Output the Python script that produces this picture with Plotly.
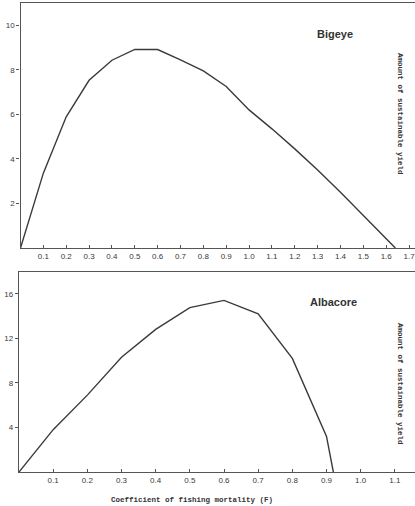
import plotly.graph_objects as go

# Sustainable yield curves against coefficient of fishing mortality (F)
bigeye_f = [0.0, 0.1, 0.2, 0.3, 0.4, 0.5, 0.6, 0.7, 0.8, 0.9, 1.0, 1.1, 1.2, 1.3, 1.4, 1.5, 1.6, 1.64]
bigeye_yield = [0.0, 3.36, 5.89, 7.53, 8.43, 8.92, 8.91, 8.45, 7.95, 7.25, 6.2, 5.35, 4.45, 3.5, 2.5, 1.45, 0.4, 0.0]

albacore_f = [0.0, 0.1, 0.2, 0.3, 0.4, 0.5, 0.6, 0.7, 0.8, 0.9, 0.92]
albacore_yield = [0.0, 3.8, 6.9, 10.3, 12.8, 14.75, 15.4, 14.2, 10.2, 3.2, 0.0]

bigeye_xticks = [0.1, 0.2, 0.3, 0.4, 0.5, 0.6, 0.7, 0.8, 0.9, 1.0, 1.1, 1.2, 1.3, 1.4, 1.5, 1.6, 1.7]
bigeye_yticks = [2, 4, 6, 8, 10]
albacore_xticks = [0.1, 0.2, 0.3, 0.4, 0.5, 0.6, 0.7, 0.8, 0.9, 1.0, 1.1]
albacore_yticks = [4, 8, 12, 16]

W, H = 415, 506
INK = "#3a3a3a"
TICK_FONT = dict(family="Liberation Sans", size=8, color="#3a3a3a")
MONO = dict(family="Liberation Mono", size=7.5, color="#333")
TITLE_FONT = dict(family="Liberation Sans", size=11, color="#333")

fig = go.Figure()
fig.add_trace(go.Scatter(x=bigeye_f, y=bigeye_yield, mode="lines",
                         line=dict(color=INK, width=1.4), xaxis="x", yaxis="y",
                         showlegend=False, hoverinfo="skip"))
fig.add_trace(go.Scatter(x=albacore_f, y=albacore_yield, mode="lines",
                         line=dict(color=INK, width=1.4), xaxis="x2", yaxis="y2",
                         showlegend=False, hoverinfo="skip"))

def xaxis(domain, rng, ticks, anchor):
    return dict(domain=domain, range=rng, anchor=anchor, tickvals=ticks,
                ticktext=[f"{t:.1f}" for t in ticks], showgrid=False, zeroline=False,
                showline=True, linecolor="#555", linewidth=1.3, mirror=True,
                ticks="inside", ticklen=3, tickcolor="#555", tickfont=TICK_FONT,
                ticklabeloverflow="allow", fixedrange=True)

def yaxis(domain, rng, ticks, anchor):
    return dict(domain=domain, range=rng, anchor=anchor, tickvals=ticks,
                ticktext=[str(t) for t in ticks], showgrid=False, zeroline=False,
                showline=True, linecolor="#555", linewidth=1.3,
                ticks="outside", ticklen=3, tickcolor="#555", tickfont=TICK_FONT,
                fixedrange=True)

def note(text, x, y, font, angle=0):
    return dict(text=text, x=x / W, y=1 - y / H, xref="paper", yref="paper",
                xanchor="center", yanchor="middle", showarrow=False,
                textangle=angle, font=font)

fig.update_layout(
    width=W, height=H,
    margin=dict(l=0, r=0, t=0, b=0),
    paper_bgcolor="white", plot_bgcolor="white",
    xaxis=xaxis([20.5 / W, 1], [0, 1.726], bigeye_xticks, "y"),
    yaxis=yaxis([1 - 248 / H, 1 - 3 / H], [0, 11], bigeye_yticks, "x"),
    xaxis2=xaxis([19 / W, 1], [0, 1.159], albacore_xticks, "y2"),
    yaxis2=yaxis([1 - 472 / H, 1 - 272 / H], [0, 17.95], albacore_yticks, "x2"),
    annotations=[
        note("<b>Bigeye</b>", 335, 34, TITLE_FONT),
        note("<b>Albacore</b>", 333, 302, TITLE_FONT),
        note("<b>Amount of sustainable yield</b>", 400, 114, MONO, 90),
        note("<b>Amount of sustainable yield</b>", 400, 384, MONO, 90),
        note("<b>Coefficient of fishing mortality (F)</b>", 192, 500, MONO),
    ],
)

fig.write_html("out.html")
